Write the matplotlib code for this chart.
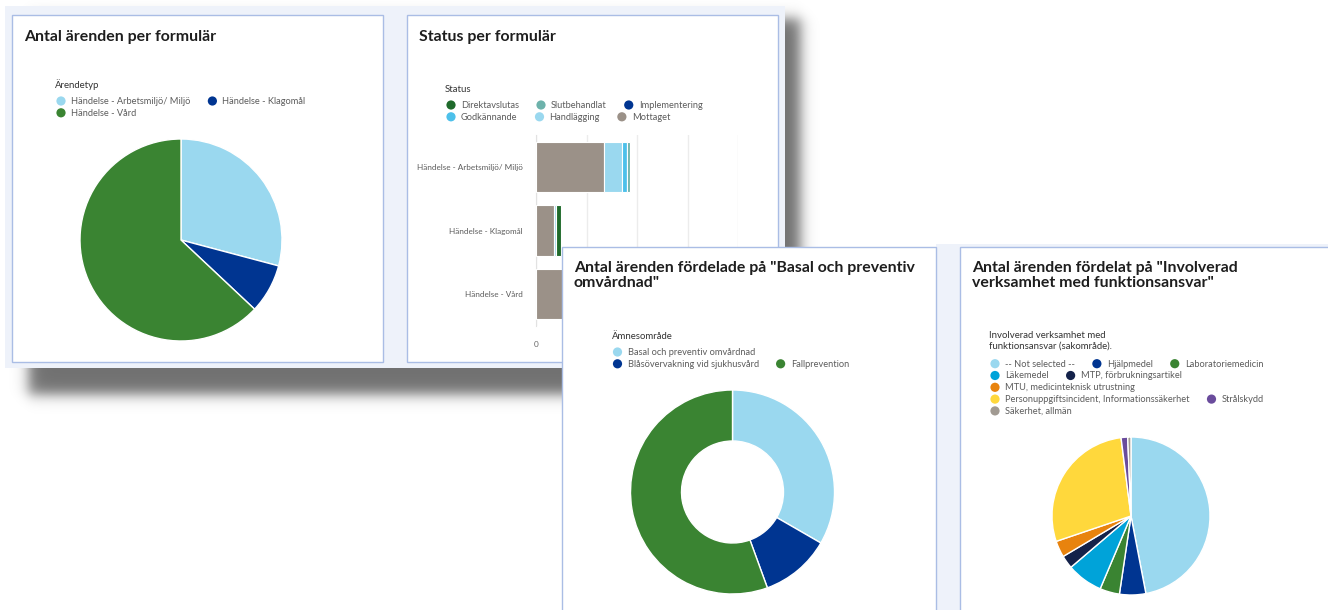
import numpy as np
import matplotlib
matplotlib.use("Agg")
import matplotlib.pyplot as plt
from matplotlib.patches import Rectangle, Circle

# ---------------- data ----------------
arende_types = ["Händelse - Arbetsmiljö/ Miljö", "Händelse - Klagomål", "Händelse - Vård"]
arende_counts = [37, 10, 80]
arende_colors = ["#9ad8ef", "#003591", "#3a8432"]

status_legend = ["Direktavslutas", "Slutbehandlat", "Implementering",
                 "Godkännande", "Handlägging", "Mottaget"]
status_legend_colors = ["#1f6a2b", "#6db2ab", "#003591", "#4dc0ea", "#9ad8ef", "#9b9188"]
# stacked from left: Mottaget, Handlägging, Godkännande, Implementering, Slutbehandlat, Direktavslutas
mottaget = [27, 7, 60]
handlagging = [7, 1, 12]
godkannande = [2, 0, 3]
implementering = [0, 0, 1]
slutbehandlat = [1, 0, 2]
direktavslutas = [0, 2, 2]
status_ticks = [0, 20, 40, 60, 80]

amne_labels = ["Basal och preventiv omvårdnad", "Blåsövervakning vid sjukhusvård", "Fallprevention"]
amne_counts = [3, 1, 5]
amne_colors = ["#9ad8ef", "#003591", "#3a8432"]

inv_labels = ["-- Not selected --", "Hjälpmedel", "Laboratoriemedicin", "Läkemedel",
              "MTP, förbrukningsartikel", "MTU, medicinteknisk utrustning",
              "Personuppgiftsincident, Informationssäkerhet", "Strålskydd", "Säkerhet, allmän"]
inv_counts = [70, 8, 6, 11, 4, 5, 42, 2, 1]
inv_colors = ["#9ad8ef", "#003591", "#3a8432", "#00a3d9", "#14224a", "#e8830e",
              "#ffd83c", "#6a4c9c", "#a19a92"]

titles = ["Antal ärenden per formulär", "Status per formulär",
          "Antal ärenden fördelade på \"Basal och preventiv\nomvårdnad\"",
          "Antal ärenden fördelat på \"Involverad\nverksamhet med funktionsansvar\""]
legend_titles = ["Ärendetyp", "Status", "Ämnesområde",
                 "Involverad verksamhet med\nfunktionsansvar (sakområde)."]

# ---------------- layout ----------------
W, H = 1328, 610
plt.rcParams['font.family'] = ["Lato", "DejaVu Sans"]
fig = plt.figure(figsize=(W / 100, H / 100), dpi=100)
fig.patch.set_facecolor("white")

BG = "#eef2fa"
BORDER = "#aabde5"
TXT = "#5c5c5c"
TITLE_C = "#1e1e1e"
TITLE_FS = 11.4
LEG_FS = 6.7
LEG_TITLE_FS = 6.9


def px_axes(x0, y0, x1, y1, z):
    ax = fig.add_axes([x0 / W, 1 - y1 / H, (x1 - x0) / W, (y1 - y0) / H])
    ax.set_zorder(z)
    return ax


def overlay(z):
    ax = px_axes(0, 0, W, H, z)
    ax.set_xlim(0, W)
    ax.set_ylim(H, 0)
    ax.axis("off")
    ax.patch.set_visible(False)
    return ax


renderer = fig.canvas.get_renderer()


def flow_legend(ax, x, y, labels, colors, maxw=298, rowh=11.8, gap=22, toff=10, r=4.6):
    cx, cy = x, y
    for lab, col in zip(labels, colors):
        t = ax.text(0, 0, lab, fontsize=LEG_FS, color=TXT, va="center", ha="left")
        w = t.get_window_extent(renderer).width
        iw = toff + w
        if cx > x and (cx - x) + iw > maxw:
            cx = x
            cy += rowh
        ax.add_patch(Circle((cx, cy), r, color=col, lw=0))
        t.set_position((cx + toff, cy + 0.5))
        cx += iw + gap


# ---------- group 1 background ----------
bg1 = overlay(0)
xs = np.arange(0, 840)
ys = np.arange(0, 430)
X, Y = np.meshgrid(xs, ys)
s = 8.0
sx = 0.5 * (np.tanh((X - 28) / s) - np.tanh((X - 800) / s))
sy = 0.5 * (np.tanh((Y - 18) / s) - np.tanh((Y - 394) / s))
alpha = 0.56 * sx * sy
img = np.zeros((len(ys), len(xs), 4))
img[..., 3] = alpha
bg1.imshow(img, extent=(0, 840, 430, 0), origin="upper", aspect="auto", interpolation="bilinear")
bg1.set_xlim(0, W)
bg1.set_ylim(H, 0)
bg1.add_patch(Rectangle((5, 6), 780, 362, facecolor=BG, edgecolor="none"))
for (x0, y0, x1, y1) in [(12, 15, 383, 362), (407, 15, 778, 362)]:
    bg1.add_patch(Rectangle((x0, y0), x1 - x0, y1 - y0, facecolor="white",
                            edgecolor=BORDER, lw=1.0))

bg1.text(24, 41, titles[0], fontsize=TITLE_FS, fontweight="bold", color=TITLE_C)
bg1.text(419, 41, titles[1], fontsize=TITLE_FS, fontweight="bold", color=TITLE_C)

bg1.text(55, 87.5, legend_titles[0], fontsize=LEG_TITLE_FS, color="#333333")
flow_legend(bg1, 61, 101, arende_types, arende_colors)
bg1.text(445, 92, legend_titles[1], fontsize=LEG_TITLE_FS, color="#333333")
flow_legend(bg1, 451, 105, status_legend, status_legend_colors)

# ---------- pie 1 ----------
r1 = 101
ax1 = px_axes(181 - r1 * 1.02, 240 - r1 * 1.02, 181 + r1 * 1.02, 240 + r1 * 1.02, 1)
ax1.pie(arende_counts, colors=arende_colors, startangle=90, counterclock=False,
        wedgeprops=dict(edgecolor="white", linewidth=1.0))
ax1.set_xlim(-1.02, 1.02)
ax1.set_ylim(-1.02, 1.02)
ax1.patch.set_visible(False)

# ---------- bar chart ----------
axb = px_axes(536, 135, 738.3, 326, 1)
ypos = np.arange(len(arende_types))
left = np.zeros(len(arende_types))
stack = [(mottaget, "#9b9188"), (handlagging, "#9ad8ef"), (godkannande, "#4dc0ea"),
         (implementering, "#003591"), (slutbehandlat, "#6db2ab"), (direktavslutas, "#1f6a2b")]
for vals, col in stack:
    v = np.array(vals, dtype=float)
    axb.barh(ypos, v, left=left, height=0.79, color=col, edgecolor="white", linewidth=0.8, zorder=3)
    left += v
axb.set_xlim(0, 80)
axb.set_ylim(2.5, -0.5)
axb.set_xticks(status_ticks)
axb.set_xticklabels([str(t) for t in status_ticks])
axb.set_yticks(ypos)
axb.set_yticklabels(arende_types)
axb.tick_params(axis="both", length=0, labelsize=5.9, colors=TXT)
axb.tick_params(axis="x", pad=11, labelcolor="#666666")
axb.tick_params(axis="y", pad=9.5)
axb.grid(axis="x", color="#ececec", lw=1.0, zorder=0)
for sp in ["top", "right", "bottom"]:
    axb.spines[sp].set_visible(False)
axb.spines["left"].set_color("#e2e2e2")
axb.patch.set_visible(False)

# ---------- group 2 background ----------
bg2 = overlay(2)
bg2.add_patch(Rectangle((936, 244), W - 936, H - 244, facecolor=BG, edgecolor="none"))
for (x0, y0, x1, y1) in [(561.5, 246.5, 936, 620), (960, 246.5, 1340, 620)]:
    bg2.add_patch(Rectangle((x0, y0), x1 - x0, y1 - y0, facecolor="white",
                            edgecolor=BORDER, lw=1.0))
for tx, ttl in [(574, titles[2]), (972, titles[3])]:
    bg2.text(tx, 261, ttl, fontsize=TITLE_FS, fontweight="bold", color=TITLE_C,
             va="top", linespacing=1.12)

bg2.text(612, 339, legend_titles[2], fontsize=LEG_TITLE_FS, color="#333333")
flow_legend(bg2, 617.5, 352, amne_labels, amne_colors)
bg2.text(989, 330.5, legend_titles[3], fontsize=LEG_TITLE_FS, color="#333333",
         va="top", linespacing=1.25)
flow_legend(bg2, 995, 363.7, inv_labels, inv_colors)

# ---------- donut 3 ----------
r3 = 102
ax3 = px_axes(732.5 - r3 * 1.02, 492 - r3 * 1.02, 732.5 + r3 * 1.02, 492 + r3 * 1.02, 3)
ax3.pie(amne_counts, colors=amne_colors, startangle=90, counterclock=False,
        wedgeprops=dict(edgecolor="white", linewidth=1.0, width=0.5))
ax3.set_xlim(-1.02, 1.02)
ax3.set_ylim(-1.02, 1.02)
ax3.patch.set_visible(False)

# ---------- pie 4 ----------
r4 = 79
ax4 = px_axes(1131 - r4 * 1.02, 516 - r4 * 1.02, 1131 + r4 * 1.02, 516 + r4 * 1.02, 3)
ax4.pie(inv_counts, colors=inv_colors, startangle=90, counterclock=False,
        wedgeprops=dict(edgecolor="white", linewidth=1.0))
ax4.set_xlim(-1.02, 1.02)
ax4.set_ylim(-1.02, 1.02)
ax4.patch.set_visible(False)

fig.savefig("out.png", dpi=100)
